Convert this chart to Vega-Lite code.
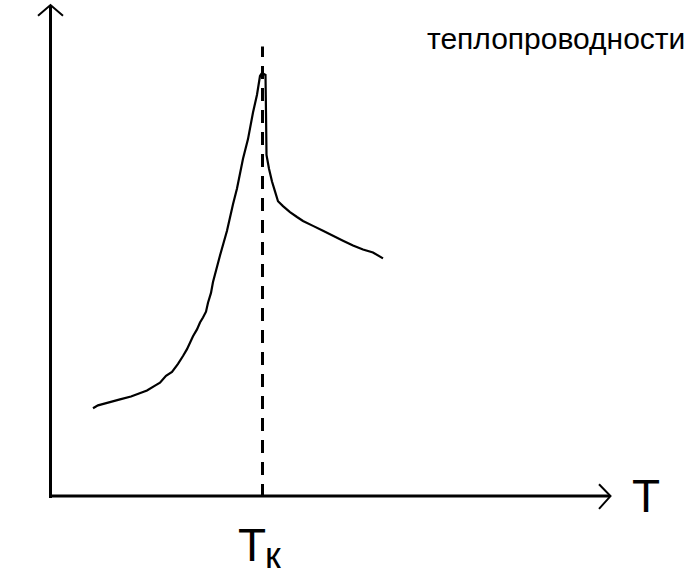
{
  "$schema": "https://vega.github.io/schema/vega-lite/v6.json",
  "width": 687,
  "height": 575,
  "padding": 0,
  "autosize": {"type": "fit", "contains": "padding"},
  "background": "white",
  "config": {"view": {"stroke": null}},
  "datasets": {
    "axes": [
      {"seg": "y", "i": 0, "T": 50.5, "k": 74},
      {"seg": "y", "i": 1, "T": 50.5, "k": 573},
      {"seg": "x", "i": 0, "T": 49, "k": 76},
      {"seg": "x", "i": 1, "T": 610, "k": 76}
    ],
    "arrows": [
      {"seg": "y", "i": 0, "T": 38, "k": 563},
      {"seg": "y", "i": 1, "T": 50.5, "k": 574},
      {"seg": "y", "i": 2, "T": 63, "k": 563},
      {"seg": "x", "i": 0, "T": 599, "k": 88},
      {"seg": "x", "i": 1, "T": 610.5, "k": 76},
      {"seg": "x", "i": 2, "T": 599, "k": 63}
    ],
    "tc": [
      {"i": 0, "T": 262.5, "k": 75},
      {"i": 1, "T": 262.5, "k": 532}
    ],
    "curve": [
      {"i": 0, "T": 93, "k": 165},
      {"i": 1, "T": 98, "k": 168},
      {"i": 2, "T": 109, "k": 171},
      {"i": 3, "T": 120, "k": 174},
      {"i": 4, "T": 131, "k": 177},
      {"i": 5, "T": 139, "k": 180},
      {"i": 6, "T": 147, "k": 183},
      {"i": 7, "T": 155, "k": 188},
      {"i": 8, "T": 160, "k": 191},
      {"i": 9, "T": 166, "k": 198},
      {"i": 10, "T": 172, "k": 202},
      {"i": 11, "T": 178, "k": 210},
      {"i": 12, "T": 183, "k": 218},
      {"i": 13, "T": 187, "k": 225},
      {"i": 14, "T": 193, "k": 238},
      {"i": 15, "T": 197, "k": 245},
      {"i": 16, "T": 200, "k": 252},
      {"i": 17, "T": 203, "k": 257},
      {"i": 18, "T": 206, "k": 263},
      {"i": 19, "T": 208, "k": 272},
      {"i": 20, "T": 211, "k": 282},
      {"i": 21, "T": 213, "k": 293},
      {"i": 22, "T": 220, "k": 320},
      {"i": 23, "T": 227, "k": 345},
      {"i": 24, "T": 233, "k": 372},
      {"i": 25, "T": 237, "k": 388},
      {"i": 26, "T": 243, "k": 418},
      {"i": 27, "T": 248, "k": 438},
      {"i": 28, "T": 253, "k": 465},
      {"i": 29, "T": 257, "k": 483},
      {"i": 30, "T": 260, "k": 502},
      {"i": 31, "T": 262, "k": 505},
      {"i": 32, "T": 265.5, "k": 503},
      {"i": 33, "T": 266, "k": 465},
      {"i": 34, "T": 266.5, "k": 422},
      {"i": 35, "T": 269, "k": 408},
      {"i": 36, "T": 272, "k": 395},
      {"i": 37, "T": 275, "k": 385},
      {"i": 38, "T": 278, "k": 375},
      {"i": 39, "T": 283, "k": 370},
      {"i": 40, "T": 290, "k": 364},
      {"i": 41, "T": 297, "k": 359},
      {"i": 42, "T": 303, "k": 355},
      {"i": 43, "T": 313, "k": 350},
      {"i": 44, "T": 323, "k": 345},
      {"i": 45, "T": 333, "k": 340},
      {"i": 46, "T": 343, "k": 335},
      {"i": 47, "T": 353, "k": 330},
      {"i": 48, "T": 363, "k": 326},
      {"i": 49, "T": 373, "k": 323},
      {"i": 50, "T": 383, "k": 317}
    ],
    "big": [
      {"label": "T", "T": 646, "k": 60},
      {"label": "T", "T": 252, "k": 10}
    ],
    "sub": [
      {"label": "к", "T": 265, "k": 3}
    ],
    "title": [
      {"label": "теплопроводности", "T": 427, "k": 529}
    ]
  },
  "encoding": {
    "x": {"field": "T", "type": "quantitative", "scale": {"domain": [0, 687], "nice": false, "zero": false}, "axis": null},
    "y": {"field": "k", "type": "quantitative", "scale": {"domain": [0, 575], "nice": false, "zero": false}, "axis": null}
  },
  "layer": [
    {
      "data": {"name": "axes"},
      "mark": {"type": "line", "color": "black", "strokeWidth": 3, "strokeCap": "butt"},
      "encoding": {"detail": {"field": "seg"}, "order": {"field": "i", "type": "quantitative"}}
    },
    {
      "data": {"name": "arrows"},
      "mark": {"type": "line", "color": "black", "strokeWidth": 2, "strokeCap": "butt"},
      "encoding": {"detail": {"field": "seg"}, "order": {"field": "i", "type": "quantitative"}}
    },
    {
      "data": {"name": "tc"},
      "mark": {"type": "line", "color": "black", "strokeWidth": 3, "strokeCap": "butt", "strokeDash": [13, 9]},
      "encoding": {"order": {"field": "i", "type": "quantitative"}}
    },
    {
      "data": {"name": "curve"},
      "mark": {"type": "line", "color": "black", "strokeWidth": 2.2, "strokeJoin": "miter"},
      "encoding": {"order": {"field": "i", "type": "quantitative"}}
    },
    {
      "data": {"name": "big"},
      "mark": {"type": "text", "font": "Liberation Sans", "fontSize": 46, "align": "center", "baseline": "alphabetic", "color": "black"},
      "encoding": {"text": {"field": "label"}}
    },
    {
      "data": {"name": "sub"},
      "mark": {"type": "text", "font": "Liberation Sans", "fontSize": 36, "align": "left", "baseline": "alphabetic", "color": "black"},
      "encoding": {"text": {"field": "label"}}
    },
    {
      "data": {"name": "title"},
      "mark": {"type": "text", "font": "Liberation Sans", "fontSize": 30, "align": "left", "baseline": "alphabetic", "color": "black"},
      "encoding": {"text": {"field": "label"}}
    }
  ]
}
